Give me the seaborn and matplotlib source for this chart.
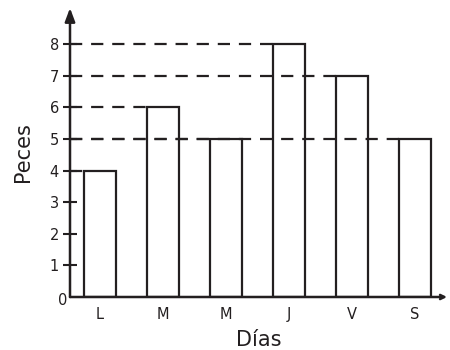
import matplotlib
matplotlib.use("Agg")
import matplotlib.pyplot as plt
import seaborn as sns
import pandas as pd

days = ["L", "M", "M", "J", "V", "S"]
fish = [4, 6, 5, 8, 7, 5]
yticks = [1, 2, 3, 4, 5, 6, 7, 8]

INK = "#231f20"
sns.set_style("white")
plt.rcParams["font.family"] = ["DejaVu Sans"]

keys = [f"{d}{i}" for i, d in enumerate(days)]
df = pd.DataFrame({"key": keys, "fish": fish})

fig = plt.figure(figsize=(4.5, 3.5), dpi=100)
ax = fig.add_axes([70 / 450, 53 / 350, 377 / 450, 289 / 350])

bw = 0.51
sns.barplot(data=df, x="key", y="fish", order=keys, width=bw,
            color="white", edgecolor=INK, linewidth=1.6, ax=ax, zorder=2)

xmin = -0.476
ax.set_xlim(xmin, 5.51)
ax.set_ylim(0, 9.14)

# dashed guide lines from the axis to each bar's left edge (drawn over bars)
for i, v in enumerate(fish):
    ax.hlines(v, xmin, i - bw / 2, colors=INK, linewidth=1.6,
              linestyles=(0, (5.5, 4)), zorder=4)

for s in ax.spines.values():
    s.set_visible(False)

ax.set_yticks(yticks)
ax.set_yticklabels([str(t) for t in yticks])
ax.tick_params(axis="y", direction="inout", length=10, width=1.5, color=INK,
               labelsize=10.5, labelcolor=INK, pad=3, left=True)
ax.set_xticks(range(len(days)))
ax.set_xticklabels(days)
ax.tick_params(axis="x", length=0, labelsize=10.5, labelcolor=INK, pad=7)
ax.text(-0.006, -0.012, "0", transform=ax.transAxes, ha="right", va="center",
        fontsize=10.5, color=INK)

ax.set_xlabel("Días", fontsize=15, color=INK, labelpad=6)
ax.set_ylabel("Peces", fontsize=15, color=INK, labelpad=12)

# axes with arrows
ax.annotate("", xy=(0, 1.0), xytext=(0, 0), xycoords="axes fraction",
            arrowprops=dict(arrowstyle="-|>,head_length=0.8,head_width=0.3",
                            lw=1.8, color=INK, shrinkA=0, shrinkB=0))
ax.annotate("", xy=(1.0, 0), xytext=(0, 0), xycoords="axes fraction",
            arrowprops=dict(arrowstyle="->,head_length=0.3,head_width=0.15",
                            lw=1.8, color=INK, shrinkA=0, shrinkB=0))

fig.savefig("out.png", dpi=100)
